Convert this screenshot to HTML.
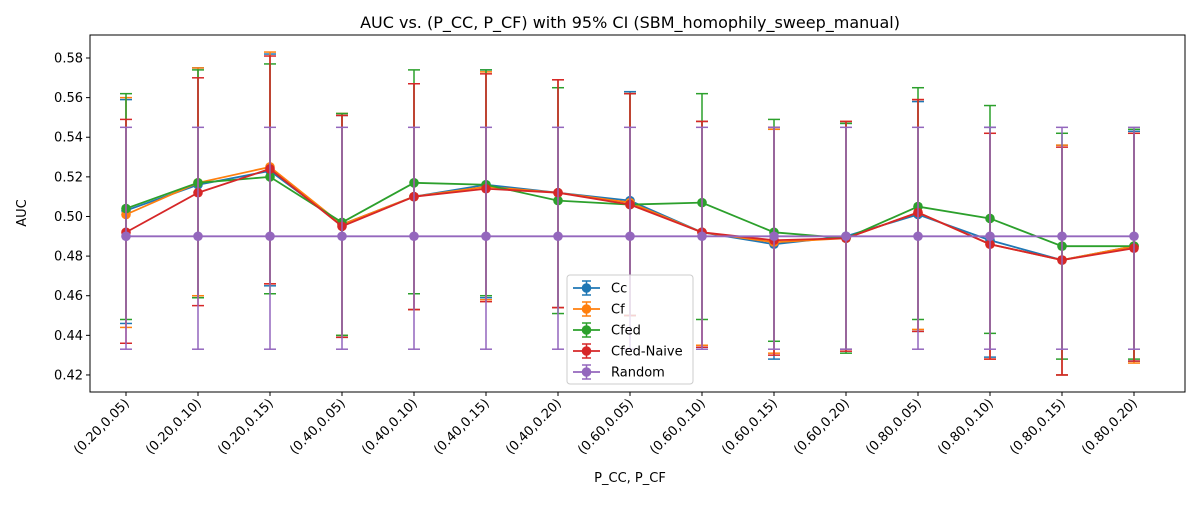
<!DOCTYPE html>
<html><head><meta charset="utf-8"><style>
body{margin:0;background:#fff;font-family:"Liberation Sans","DejaVu Sans",sans-serif;}
svg text{font-family:"DejaVu Sans","Liberation Sans",sans-serif;}
</style></head><body>
<svg id="chart" width="1200" height="500" xmlns="http://www.w3.org/2000/svg">
<text x="630" y="28" font-size="16" text-anchor="middle" fill="#000">AUC vs. (P_CC, P_CF) with 95% CI (SBM_homophily_sweep_manual)</text>
<g id="plot"></g>
<rect x="90" y="35" width="1095" height="357" fill="none" stroke="#000" stroke-width="1"/>
<text x="630" y="482" font-size="13" text-anchor="middle">P_CC, P_CF</text>
<text transform="translate(26,213) rotate(-90)" font-size="13" text-anchor="middle">AUC</text>
</svg>
<script>
const categories=["(0.20,0.05)","(0.20,0.10)","(0.20,0.15)","(0.40,0.05)","(0.40,0.10)","(0.40,0.15)","(0.40,0.20)","(0.60,0.05)","(0.60,0.10)","(0.60,0.15)","(0.60,0.20)","(0.80,0.05)","(0.80,0.10)","(0.80,0.15)","(0.80,0.20)"];
const yTicks=[0.42,0.44,0.46,0.48,0.50,0.52,0.54,0.56,0.58];
const seriesNames=["Cc","Cf","Cfed","Cfed-Naive","Random"];
const seriesColors=["#1f77b4","#ff7f0e","#2ca02c","#d62728","#9467bd"];
const ccMean=[0.503,0.516,0.523,0.496,0.510,0.516,0.512,0.508,0.492,0.486,0.490,0.501,0.488,0.478,0.485];
const cfMean=[0.501,0.517,0.525,0.496,0.510,0.515,0.512,0.507,0.492,0.487,0.489,0.502,0.486,0.478,0.485];
const cfedMean=[0.504,0.517,0.520,0.497,0.517,0.516,0.508,0.506,0.507,0.492,0.489,0.505,0.499,0.485,0.485];
const naiveMean=[0.492,0.512,0.524,0.495,0.510,0.514,0.512,0.506,0.492,0.488,0.489,0.502,0.486,0.478,0.484];
const randomMean=[0.490,0.490,0.490,0.490,0.490,0.490,0.490,0.490,0.490,0.490,0.490,0.490,0.490,0.490,0.490];
const ccHi=[0.559,0.575,0.582,0.551,0.567,0.574,0.569,0.563,0.548,0.545,0.547,0.558,0.545,0.536,0.543];
const cfHi=[0.560,0.575,0.583,0.552,0.567,0.573,0.569,0.562,0.548,0.544,0.548,0.559,0.542,0.536,0.542];
const cfedHi=[0.562,0.574,0.577,0.552,0.574,0.574,0.565,0.562,0.562,0.549,0.547,0.565,0.556,0.542,0.544];
const naiveHi=[0.549,0.570,0.581,0.551,0.567,0.572,0.569,0.562,0.548,0.545,0.548,0.559,0.542,0.535,0.542];
const randomHi=[0.545,0.545,0.545,0.545,0.545,0.545,0.545,0.545,0.545,0.545,0.545,0.545,0.545,0.545,0.545];
const ccLo=[0.446,0.459,0.465,0.439,0.453,0.459,0.454,0.450,0.434,0.428,0.433,0.442,0.429,0.420,0.427];
const cfLo=[0.444,0.460,0.466,0.440,0.453,0.458,0.454,0.450,0.435,0.431,0.433,0.443,0.428,0.420,0.426];
const cfedLo=[0.448,0.459,0.461,0.440,0.461,0.460,0.451,0.450,0.448,0.437,0.431,0.448,0.441,0.428,0.428];
const naiveLo=[0.436,0.455,0.466,0.439,0.453,0.457,0.454,0.450,0.434,0.430,0.432,0.442,0.428,0.420,0.427];
const randomLo=[0.433,0.433,0.433,0.433,0.433,0.433,0.433,0.433,0.433,0.433,0.433,0.433,0.433,0.433,0.433];

const means=[ccMean,cfMean,cfedMean,naiveMean,randomMean];
const his=[ccHi,cfHi,cfedHi,naiveHi,randomHi];
const los=[ccLo,cfLo,cfedLo,naiveLo,randomLo];
const NS="http://www.w3.org/2000/svg";
const g=document.getElementById('plot');
function x(i){return 126+i*(1134-126)/(categories.length-1);}
function y(v){return 58+(0.58-v)*1981;}
function mk(tag,attrs,parent){const e=document.createElementNS(NS,tag);for(const k in attrs)e.setAttribute(k,attrs[k]);(parent||g).appendChild(e);return e;}
// y ticks
yTicks.forEach(t=>{
  const tk=mk('line',{x1:86,x2:90,y1:y(t),y2:y(t),stroke:'#000'});
  
  
  const tl=mk('text',{x:83,y:y(t)+4.5,'font-size':13,'text-anchor':'end'});
  tl.textContent=t.toFixed(2);
  
  
});
categories.forEach((c,i)=>{
  const tk=mk('line',{x1:x(i),x2:x(i),y1:392,y2:396,stroke:'#000'});
  
  
  const tl=mk('text',{x:0,y:0,'font-size':13,'text-anchor':'end',transform:`translate(${x(i)+4},${404}) rotate(-45)`});
  tl.textContent=c;
  
  
});
means.forEach((m,s)=>{
  const col=seriesColors[s];
  const sg=mk('g',{});
  
  
  m.forEach((v,i)=>{
    const eb=mk('line',{x1:x(i),x2:x(i),y1:y(los[s][i]),y2:y(his[s][i]),stroke:col,'stroke-width':1.5},sg);
    
    
    [los[s][i],his[s][i]].forEach(b=>{
      const cp=mk('line',{x1:x(i)-6,x2:x(i)+6,y1:y(b),y2:y(b),stroke:col,'stroke-width':1.5},sg);
      
      
    });
  });
  const ln=mk('polyline',{points:m.map((v,i)=>x(i)+','+y(v)).join(' '),fill:'none',stroke:col,'stroke-width':1.8},sg);
  
  
  m.forEach((v,i)=>{
    const p=mk('circle',{cx:x(i),cy:y(v),r:4.8,fill:col},sg);
    
    
  });
});
// legend
const lg=mk('g',{});


mk('rect',{x:567,y:275,width:126,height:109,rx:3,fill:'#fff','fill-opacity':0.8,stroke:'#ccc'},lg);
seriesNames.forEach((n,k)=>{
  const yy=288+k*21, col=seriesColors[k];
  const e=mk('g',{},lg);
  
  
  mk('line',{x1:573,x2:600,y1:yy,y2:yy,stroke:col,'stroke-width':1.8},e);
  mk('line',{x1:586.5,x2:586.5,y1:yy-7,y2:yy+7,stroke:col,'stroke-width':1.5},e);
  mk('line',{x1:582,x2:591,y1:yy-7,y2:yy-7,stroke:col,'stroke-width':1.5},e);
  mk('line',{x1:582,x2:591,y1:yy+7,y2:yy+7,stroke:col,'stroke-width':1.5},e);
  mk('circle',{cx:586.5,cy:yy,r:4.8,fill:col},e);
  const t=mk('text',{x:611,y:yy+4.5,'font-size':13},e);
  t.textContent=n;
});
</script>
</body></html>
